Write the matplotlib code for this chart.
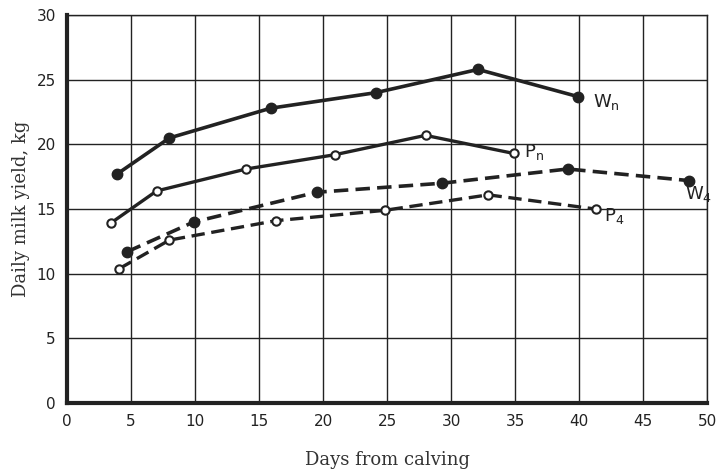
import matplotlib.pyplot as plt
import numpy as np

plt.rcParams.update({'font.size': 11})

# days from calving / daily milk yield (kg)
wn_days = [3.9, 8.0, 15.9, 24.1, 32.1, 39.9]
wn_yield = [17.7, 20.5, 22.8, 24.0, 25.8, 23.7]

pn_days = [3.4, 7.0, 14.0, 20.9, 28.0, 34.9]
pn_yield = [13.9, 16.4, 18.1, 19.2, 20.7, 19.3]

w4_days = [4.7, 9.9, 19.5, 29.3, 39.1, 48.6]
w4_yield = [11.7, 14.0, 16.3, 17.0, 18.1, 17.2]

p4_days = [4.1, 8.0, 16.3, 24.8, 32.9, 41.3]
p4_yield = [10.4, 12.6, 14.1, 14.9, 16.1, 15.0]

xticks = np.arange(0, 55, 5)
yticks = np.arange(0, 35, 5)

ink = '#222222'

fig = plt.figure(figsize=(7.17, 4.73), dpi=100)
ax = fig.add_axes([0.0934, 0.148, 0.893, 0.820])

dash = (0, (4, 2))
ax.plot(wn_days, wn_yield, '-', color=ink, lw=2.6, marker='o', ms=7.5,
        mfc=ink, mec=ink, zorder=3)
ax.plot(pn_days, pn_yield, '-', color=ink, lw=2.4, marker='o', ms=6,
        mfc='white', mec=ink, mew=1.5, zorder=3)
ax.plot(w4_days, w4_yield, linestyle=dash, color=ink, lw=2.6, marker='o', ms=7.5,
        mfc=ink, mec=ink, zorder=3)
ax.plot(p4_days, p4_yield, linestyle=dash, color=ink, lw=2.4, marker='o', ms=6,
        mfc='white', mec=ink, mew=1.5, zorder=3)

# curve labels
lab = dict(color=ink, fontsize=13, family='DejaVu Sans', va='center', ha='left')
ax.text(wn_days[-1] + 1.2, wn_yield[-1] - 0.4, r'W$\mathregular{_n}$', **lab)
ax.text(pn_days[-1] + 0.8, pn_yield[-1] + 0.1, r'P$\mathregular{_n}$', **lab)
ax.text(w4_days[-1] - 0.3, w4_yield[-1] - 1.0, r'W$\mathregular{_4}$', **lab)
ax.text(p4_days[-1] + 0.6, p4_yield[-1] - 0.5, r'P$\mathregular{_4}$', **lab)

ax.set_xlim(0, 50)
ax.set_ylim(0, 30)
ax.set_xticks(xticks)
ax.set_yticks(yticks)
ax.tick_params(length=0, pad=8, labelsize=11, colors=ink)
ax.grid(True, color=ink, lw=1.0)

for side in ['top', 'right']:
    ax.spines[side].set_linewidth(1.0)
    ax.spines[side].set_color(ink)
for side in ['left', 'bottom']:
    ax.spines[side].set_linewidth(3.0)
    ax.spines[side].set_color(ink)

ax.set_xlabel('Days from calving', family='DejaVu Serif', fontsize=13,
              color='#333333', labelpad=16)
ax.set_ylabel('Daily milk yield, kg', family='DejaVu Serif', fontsize=13,
              color='#333333', labelpad=5)

plt.savefig('out.png', dpi=100)
